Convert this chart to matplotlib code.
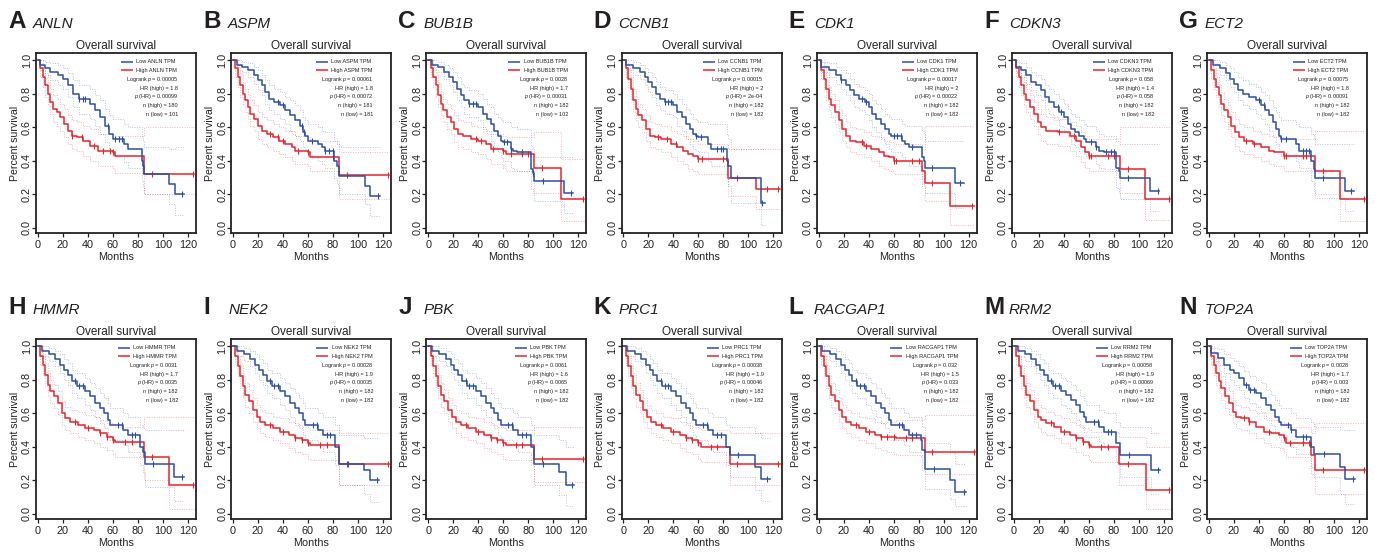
import matplotlib
matplotlib.use('Agg')
import matplotlib.pyplot as plt

plt.rcParams['font.family'] = ['Liberation Sans', 'DejaVu Sans']
plt.rcParams['mathtext.fontset'] = 'custom'
plt.rcParams['mathtext.it'] = 'Liberation Sans:italic'
plt.rcParams['mathtext.rm'] = 'Liberation Sans'

# panel labels and stats
letters = ['A', 'B', 'C', 'D', 'E', 'F', 'G', 'H', 'I', 'J', 'K', 'L', 'M', 'N']
genes = ['ANLN', 'ASPM', 'BUB1B', 'CCNB1', 'CDK1', 'CDKN3', 'ECT2',
         'HMMR', 'NEK2', 'PBK', 'PRC1', 'RACGAP1', 'RRM2', 'TOP2A']
logrank_p = ['0.00005', '0.00061', '0.0028', '0.00015', '0.00017', '0.058', '0.00075',
             '0.0031', '0.00028', '0.0061', '0.00038', '0.032', '0.00058', '0.0028']
hr_high = ['1.8', '1.8', '1.7', '2', '2', '1.4', '1.8', '1.7', '1.9', '1.6', '1.9', '1.5', '1.9', '1.7']
p_hr = ['0.00099', '0.00072', '0.00031', '2e-04', '0.00022', '0.058', '0.00091',
        '0.0035', '0.00035', '0.0065', '0.00046', '0.033', '0.00069', '0.003']
n_high = [180, 181, 182, 182, 182, 182, 182, 182, 182, 182, 182, 182, 182, 182]
n_low = [101, 181, 102, 182, 182, 182, 182, 182, 182, 182, 182, 182, 182, 182]

# Kaplan-Meier curves (months, survival fraction)
low_t = {
    'ANLN': [0, 2, 6, 10, 16, 20, 24, 28, 33, 42, 46, 50, 54, 57, 60, 69, 72, 83, 84, 85, 105, 110, 117],
    'ASPM': [0, 3, 7, 12, 17, 20, 23, 26, 29, 33, 38, 42, 46, 50, 54, 56, 58, 60, 68, 71, 74, 81, 83, 85, 106, 110, 118],
    'BUB1B': [0, 3, 8, 13, 17, 20, 23, 26, 29, 33, 40, 44, 47, 50, 53, 56, 58, 60, 66, 68, 71, 82, 84, 85, 109, 116],
    'CCNB1': [0, 2, 8, 13, 17, 20, 23, 26, 29, 33, 40, 43, 47, 50, 53, 56, 58, 60, 68, 70, 83, 84, 86, 110, 113],
    'CDK1': [0, 2, 8, 14, 18, 22, 25, 28, 32, 37, 40, 43, 46, 50, 53, 56, 58, 67, 69, 72, 83, 84, 85, 109, 116],
    'CDKN3': [0, 2, 6, 10, 14, 18, 22, 25, 28, 32, 36, 40, 43, 46, 49, 52, 56, 58, 66, 68, 72, 82, 84, 85, 109, 116],
    'ECT2': [0, 3, 9, 14, 17, 20, 23, 27, 32, 38, 42, 45, 48, 51, 54, 56, 58, 70, 72, 82, 84, 85, 109, 116],
    'HMMR': [0, 3, 9, 14, 18, 21, 24, 27, 31, 38, 42, 46, 50, 53, 56, 58, 68, 72, 82, 84, 86, 109, 117],
    'NEK2': [0, 3, 9, 14, 18, 21, 24, 27, 31, 38, 42, 46, 50, 53, 56, 58, 68, 72, 82, 85, 105, 110, 117],
    'PBK': [0, 3, 9, 14, 18, 21, 24, 27, 31, 38, 42, 46, 50, 53, 56, 58, 68, 72, 82, 85, 105, 110, 117],
    'PRC1': [0, 3, 9, 14, 18, 21, 24, 27, 31, 38, 42, 46, 50, 53, 56, 58, 68, 72, 82, 85, 105, 110, 117],
    'RACGAP1': [0, 3, 9, 14, 18, 21, 24, 27, 31, 38, 42, 46, 50, 53, 56, 58, 68, 72, 82, 83, 85, 105, 109, 118],
    'RRM2': [0, 3, 9, 14, 18, 21, 24, 27, 31, 38, 42, 46, 50, 53, 56, 58, 68, 72, 82, 85, 105, 110, 117],
    'TOP2A': [0, 2, 7, 12, 17, 20, 24, 28, 32, 38, 42, 46, 50, 53, 56, 58, 66, 70, 82, 84, 105, 109, 117],
}
low_s = {
    'ANLN': [1.0, 0.97, 0.95, 0.93, 0.91, 0.89, 0.85, 0.80, 0.77, 0.74, 0.70, 0.66, 0.61, 0.56, 0.53, 0.50, 0.47, 0.40, 0.37, 0.32, 0.26, 0.20, 0.20],
    'ASPM': [1.0, 0.97, 0.96, 0.94, 0.91, 0.88, 0.85, 0.81, 0.77, 0.75, 0.73, 0.70, 0.67, 0.64, 0.61, 0.57, 0.55, 0.52, 0.50, 0.48, 0.46, 0.40, 0.37, 0.31, 0.25, 0.19, 0.19],
    'BUB1B': [1.0, 0.97, 0.96, 0.93, 0.90, 0.87, 0.83, 0.79, 0.76, 0.74, 0.72, 0.68, 0.65, 0.62, 0.58, 0.55, 0.52, 0.51, 0.47, 0.46, 0.45, 0.35, 0.33, 0.28, 0.21, 0.21],
    'CCNB1': [1.0, 0.97, 0.95, 0.93, 0.90, 0.87, 0.84, 0.80, 0.77, 0.75, 0.73, 0.69, 0.66, 0.62, 0.59, 0.56, 0.55, 0.54, 0.50, 0.47, 0.40, 0.37, 0.30, 0.15, 0.15],
    'CDK1': [1.0, 0.96, 0.94, 0.91, 0.88, 0.85, 0.82, 0.79, 0.77, 0.75, 0.72, 0.68, 0.65, 0.62, 0.59, 0.56, 0.55, 0.52, 0.50, 0.48, 0.42, 0.40, 0.355, 0.27, 0.27],
    'CDKN3': [1.0, 0.96, 0.94, 0.91, 0.87, 0.85, 0.82, 0.78, 0.75, 0.72, 0.69, 0.66, 0.62, 0.59, 0.57, 0.55, 0.53, 0.51, 0.48, 0.46, 0.45, 0.36, 0.34, 0.30, 0.22, 0.22],
    'ECT2': [1.0, 0.97, 0.95, 0.92, 0.89, 0.86, 0.82, 0.80, 0.78, 0.76, 0.73, 0.70, 0.67, 0.63, 0.59, 0.55, 0.53, 0.50, 0.46, 0.40, 0.35, 0.30, 0.22, 0.22],
    'HMMR': [1.0, 0.97, 0.95, 0.92, 0.89, 0.86, 0.83, 0.79, 0.76, 0.73, 0.70, 0.66, 0.63, 0.60, 0.56, 0.53, 0.50, 0.47, 0.40, 0.37, 0.30, 0.22, 0.22],
    'NEK2': [1.0, 0.97, 0.95, 0.92, 0.89, 0.86, 0.83, 0.79, 0.76, 0.73, 0.70, 0.66, 0.63, 0.60, 0.56, 0.53, 0.50, 0.47, 0.40, 0.30, 0.26, 0.20, 0.20],
    'PBK': [1.0, 0.97, 0.95, 0.92, 0.89, 0.86, 0.83, 0.79, 0.76, 0.73, 0.70, 0.66, 0.63, 0.60, 0.56, 0.53, 0.50, 0.47, 0.40, 0.30, 0.25, 0.17, 0.17],
    'PRC1': [1.0, 0.97, 0.95, 0.92, 0.89, 0.86, 0.83, 0.79, 0.76, 0.73, 0.70, 0.66, 0.63, 0.60, 0.56, 0.53, 0.50, 0.47, 0.40, 0.35, 0.28, 0.21, 0.21],
    'RACGAP1': [1.0, 0.97, 0.95, 0.92, 0.89, 0.86, 0.83, 0.79, 0.76, 0.73, 0.70, 0.66, 0.63, 0.60, 0.56, 0.53, 0.50, 0.47, 0.44, 0.38, 0.27, 0.20, 0.13, 0.13],
    'RRM2': [1.0, 0.97, 0.95, 0.92, 0.89, 0.86, 0.83, 0.79, 0.76, 0.73, 0.71, 0.68, 0.65, 0.61, 0.58, 0.55, 0.52, 0.49, 0.42, 0.35, 0.35, 0.26, 0.26],
    'TOP2A': [1.0, 0.96, 0.93, 0.89, 0.86, 0.84, 0.81, 0.77, 0.74, 0.72, 0.69, 0.65, 0.62, 0.58, 0.55, 0.53, 0.50, 0.46, 0.40, 0.355, 0.28, 0.21, 0.21],
}
low_hi = {
    'ANLN': [1.0, 1.0, 0.99, 0.98, 0.97, 0.95, 0.92, 0.88, 0.85, 0.83, 0.79, 0.76, 0.71, 0.67, 0.65, 0.62, 0.60, 0.55, 0.52, 0.48, 0.47, 0.48, 0.48],
    'ASPM': [1.0, 1.0, 0.99, 0.98, 0.96, 0.94, 0.91, 0.88, 0.85, 0.83, 0.81, 0.78, 0.76, 0.73, 0.70, 0.66, 0.64, 0.62, 0.60, 0.58, 0.57, 0.52, 0.50, 0.48, 0.48, 0.48, 0.48],
    'BUB1B': [1.0, 1.0, 0.99, 0.97, 0.95, 0.93, 0.90, 0.86, 0.84, 0.82, 0.80, 0.77, 0.74, 0.72, 0.68, 0.66, 0.64, 0.63, 0.60, 0.60, 0.59, 0.49, 0.47, 0.42, 0.42, 0.42],
    'CCNB1': [1.0, 1.0, 0.99, 0.97, 0.95, 0.93, 0.90, 0.87, 0.84, 0.82, 0.80, 0.77, 0.74, 0.71, 0.68, 0.65, 0.64, 0.63, 0.62, 0.62, 0.56, 0.53, 0.47, 0.47, 0.47],
    'CDK1': [1.0, 0.99, 0.98, 0.96, 0.94, 0.92, 0.89, 0.86, 0.84, 0.82, 0.80, 0.76, 0.74, 0.71, 0.68, 0.66, 0.65, 0.62, 0.61, 0.61, 0.58, 0.56, 0.52, 0.52, 0.52],
    'CDKN3': [1.0, 0.99, 0.98, 0.96, 0.93, 0.91, 0.89, 0.85, 0.83, 0.80, 0.77, 0.74, 0.71, 0.68, 0.66, 0.64, 0.62, 0.61, 0.58, 0.56, 0.55, 0.52, 0.52, 0.50, 0.50, 0.50],
    'ECT2': [1.0, 1.0, 0.99, 0.97, 0.95, 0.93, 0.90, 0.88, 0.86, 0.84, 0.81, 0.79, 0.76, 0.72, 0.69, 0.66, 0.64, 0.62, 0.60, 0.56, 0.53, 0.50, 0.50, 0.50],
    'HMMR': [1.0, 1.0, 0.99, 0.97, 0.95, 0.92, 0.90, 0.86, 0.84, 0.81, 0.78, 0.75, 0.72, 0.69, 0.66, 0.63, 0.60, 0.58, 0.53, 0.51, 0.50, 0.50, 0.50],
    'NEK2': [1.0, 1.0, 0.99, 0.97, 0.95, 0.92, 0.90, 0.86, 0.84, 0.81, 0.78, 0.75, 0.72, 0.69, 0.66, 0.63, 0.60, 0.58, 0.53, 0.47, 0.45, 0.45, 0.45],
    'PBK': [1.0, 1.0, 0.99, 0.97, 0.95, 0.92, 0.90, 0.86, 0.84, 0.81, 0.78, 0.75, 0.72, 0.69, 0.66, 0.63, 0.60, 0.58, 0.53, 0.47, 0.44, 0.40, 0.40],
    'PRC1': [1.0, 1.0, 0.99, 0.97, 0.95, 0.92, 0.90, 0.86, 0.84, 0.81, 0.78, 0.75, 0.72, 0.69, 0.66, 0.63, 0.60, 0.58, 0.53, 0.52, 0.48, 0.45, 0.45],
    'RACGAP1': [1.0, 1.0, 0.99, 0.97, 0.95, 0.92, 0.90, 0.86, 0.84, 0.81, 0.78, 0.75, 0.72, 0.69, 0.66, 0.63, 0.60, 0.58, 0.57, 0.52, 0.42, 0.37, 0.30, 0.30],
    'RRM2': [1.0, 1.0, 0.99, 0.97, 0.95, 0.92, 0.90, 0.86, 0.84, 0.81, 0.79, 0.77, 0.74, 0.70, 0.68, 0.65, 0.62, 0.60, 0.55, 0.52, 0.52, 0.48, 0.48],
    'TOP2A': [1.0, 0.99, 0.98, 0.95, 0.93, 0.91, 0.88, 0.85, 0.82, 0.80, 0.78, 0.74, 0.71, 0.68, 0.65, 0.63, 0.60, 0.57, 0.55, 0.52, 0.50, 0.50, 0.50],
}
low_lo = {
    'ANLN': [1.0, 0.94, 0.91, 0.88, 0.85, 0.83, 0.78, 0.72, 0.68, 0.65, 0.61, 0.56, 0.51, 0.46, 0.43, 0.39, 0.36, 0.28, 0.25, 0.20, 0.14, 0.08, 0.08],
    'ASPM': [1.0, 0.94, 0.93, 0.90, 0.86, 0.82, 0.79, 0.74, 0.70, 0.68, 0.65, 0.62, 0.58, 0.55, 0.52, 0.48, 0.46, 0.43, 0.40, 0.38, 0.36, 0.30, 0.26, 0.20, 0.14, 0.07, 0.07],
    'BUB1B': [1.0, 0.94, 0.93, 0.89, 0.85, 0.81, 0.76, 0.72, 0.68, 0.66, 0.64, 0.59, 0.56, 0.52, 0.48, 0.45, 0.42, 0.40, 0.36, 0.35, 0.34, 0.23, 0.21, 0.16, 0.09, 0.09],
    'CCNB1': [1.0, 0.94, 0.91, 0.89, 0.85, 0.81, 0.78, 0.73, 0.70, 0.68, 0.66, 0.61, 0.58, 0.53, 0.50, 0.47, 0.46, 0.45, 0.40, 0.37, 0.29, 0.25, 0.15, 0.02, 0.02],
    'CDK1': [1.0, 0.93, 0.90, 0.86, 0.83, 0.79, 0.76, 0.72, 0.70, 0.68, 0.64, 0.60, 0.57, 0.53, 0.50, 0.47, 0.45, 0.42, 0.40, 0.37, 0.29, 0.26, 0.21, 0.12, 0.12],
    'CDKN3': [1.0, 0.93, 0.90, 0.86, 0.82, 0.79, 0.76, 0.71, 0.68, 0.64, 0.61, 0.58, 0.54, 0.50, 0.48, 0.46, 0.44, 0.42, 0.38, 0.36, 0.35, 0.24, 0.21, 0.17, 0.10, 0.10],
    'ECT2': [1.0, 0.94, 0.91, 0.88, 0.84, 0.81, 0.76, 0.73, 0.71, 0.68, 0.65, 0.62, 0.58, 0.54, 0.50, 0.46, 0.43, 0.40, 0.36, 0.28, 0.22, 0.18, 0.10, 0.10],
    'HMMR': [1.0, 0.94, 0.91, 0.88, 0.84, 0.80, 0.77, 0.72, 0.69, 0.65, 0.62, 0.58, 0.54, 0.51, 0.47, 0.44, 0.41, 0.37, 0.29, 0.25, 0.16, 0.08, 0.08],
    'NEK2': [1.0, 0.94, 0.91, 0.88, 0.84, 0.80, 0.77, 0.72, 0.69, 0.65, 0.62, 0.58, 0.54, 0.51, 0.47, 0.44, 0.41, 0.37, 0.29, 0.17, 0.12, 0.07, 0.07],
    'PBK': [1.0, 0.94, 0.91, 0.88, 0.84, 0.80, 0.77, 0.72, 0.69, 0.65, 0.62, 0.58, 0.54, 0.51, 0.47, 0.44, 0.41, 0.37, 0.29, 0.17, 0.11, 0.05, 0.05],
    'PRC1': [1.0, 0.94, 0.91, 0.88, 0.84, 0.80, 0.77, 0.72, 0.69, 0.65, 0.62, 0.58, 0.54, 0.51, 0.47, 0.44, 0.41, 0.37, 0.29, 0.22, 0.14, 0.08, 0.08],
    'RACGAP1': [1.0, 0.94, 0.91, 0.88, 0.84, 0.80, 0.77, 0.72, 0.69, 0.65, 0.62, 0.58, 0.54, 0.51, 0.47, 0.44, 0.41, 0.37, 0.34, 0.26, 0.15, 0.09, 0.05, 0.05],
    'RRM2': [1.0, 0.94, 0.91, 0.88, 0.84, 0.80, 0.77, 0.72, 0.69, 0.65, 0.63, 0.60, 0.56, 0.52, 0.49, 0.46, 0.43, 0.39, 0.31, 0.22, 0.22, 0.12, 0.12],
    'TOP2A': [1.0, 0.93, 0.89, 0.84, 0.80, 0.77, 0.74, 0.69, 0.66, 0.64, 0.61, 0.56, 0.53, 0.49, 0.46, 0.43, 0.40, 0.36, 0.28, 0.22, 0.12, 0.06, 0.06],
}

high_t = {
    'ANLN': [0, 2, 4, 6, 8, 10, 12, 15, 18, 21, 24, 27, 31, 36, 42, 48, 60, 62, 85, 125],
    'ASPM': [0, 2, 4, 6, 8, 10, 12, 14, 17, 20, 23, 27, 32, 37, 42, 47, 50, 60, 62, 85, 125],
    'BUB1B': [0, 2, 4, 6, 8, 10, 12, 15, 18, 21, 24, 28, 34, 40, 46, 50, 60, 62, 85, 106, 125],
    'CCNB1': [0, 2, 4, 6, 8, 10, 12, 15, 18, 21, 25, 30, 38, 43, 48, 52, 56, 60, 84, 106, 125],
    'CDK1': [0, 2, 4, 6, 8, 10, 13, 16, 19, 22, 25, 30, 36, 42, 48, 52, 56, 60, 83, 85, 105, 124],
    'CDKN3': [0, 2, 4, 6, 8, 10, 13, 16, 19, 22, 26, 35, 45, 50, 54, 57, 60, 85, 105, 125],
    'ECT2': [0, 2, 4, 6, 8, 10, 12, 15, 18, 21, 24, 28, 35, 42, 48, 52, 60, 85, 105, 125],
    'HMMR': [0, 2, 4, 6, 8, 10, 13, 16, 19, 22, 26, 32, 38, 45, 50, 55, 60, 62, 85, 105, 125],
    'NEK2': [0, 2, 4, 6, 8, 10, 13, 16, 19, 22, 26, 32, 38, 45, 50, 55, 60, 62, 85, 125],
    'PBK': [0, 2, 4, 6, 8, 10, 13, 16, 19, 22, 26, 32, 38, 45, 50, 55, 60, 62, 85, 125],
    'PRC1': [0, 2, 4, 6, 8, 10, 13, 16, 19, 22, 26, 32, 38, 45, 50, 55, 60, 62, 85, 125],
    'RACGAP1': [0, 2, 4, 6, 8, 10, 13, 16, 19, 22, 26, 32, 38, 45, 50, 55, 60, 62, 85, 125],
    'RRM2': [0, 2, 4, 6, 8, 10, 13, 16, 19, 22, 26, 32, 38, 45, 50, 55, 60, 62, 84, 106, 125],
    'TOP2A': [0, 2, 4, 6, 8, 10, 13, 16, 19, 22, 26, 32, 38, 44, 50, 56, 60, 62, 82, 85, 125],
}
high_s = {
    'ANLN': [1.0, 0.95, 0.90, 0.85, 0.80, 0.75, 0.71, 0.69, 0.66, 0.62, 0.58, 0.55, 0.54, 0.52, 0.49, 0.46, 0.45, 0.43, 0.32, 0.32],
    'ASPM': [1.0, 0.95, 0.90, 0.85, 0.80, 0.76, 0.72, 0.68, 0.65, 0.61, 0.58, 0.56, 0.54, 0.52, 0.50, 0.48, 0.46, 0.45, 0.42, 0.315, 0.315],
    'BUB1B': [1.0, 0.95, 0.90, 0.85, 0.79, 0.74, 0.70, 0.66, 0.63, 0.59, 0.56, 0.55, 0.53, 0.52, 0.50, 0.47, 0.46, 0.44, 0.355, 0.17, 0.17],
    'CCNB1': [1.0, 0.95, 0.89, 0.83, 0.76, 0.71, 0.67, 0.64, 0.59, 0.55, 0.54, 0.53, 0.50, 0.48, 0.46, 0.44, 0.43, 0.41, 0.30, 0.23, 0.23],
    'CDK1': [1.0, 0.94, 0.89, 0.83, 0.77, 0.73, 0.69, 0.64, 0.59, 0.55, 0.52, 0.51, 0.49, 0.47, 0.45, 0.43, 0.42, 0.40, 0.34, 0.27, 0.13, 0.13],
    'CDKN3': [1.0, 0.95, 0.90, 0.85, 0.80, 0.76, 0.72, 0.68, 0.63, 0.60, 0.58, 0.57, 0.55, 0.52, 0.48, 0.45, 0.43, 0.35, 0.17, 0.17],
    'ECT2': [1.0, 0.94, 0.89, 0.84, 0.79, 0.74, 0.70, 0.66, 0.61, 0.57, 0.54, 0.52, 0.50, 0.48, 0.46, 0.45, 0.43, 0.34, 0.17, 0.17],
    'HMMR': [1.0, 0.94, 0.89, 0.83, 0.77, 0.73, 0.70, 0.66, 0.60, 0.57, 0.55, 0.53, 0.51, 0.50, 0.48, 0.46, 0.44, 0.43, 0.34, 0.17, 0.17],
    'NEK2': [1.0, 0.94, 0.88, 0.82, 0.76, 0.71, 0.67, 0.62, 0.58, 0.55, 0.53, 0.51, 0.49, 0.47, 0.45, 0.44, 0.42, 0.41, 0.30, 0.30],
    'PBK': [1.0, 0.94, 0.88, 0.82, 0.76, 0.71, 0.67, 0.62, 0.58, 0.55, 0.53, 0.51, 0.49, 0.47, 0.45, 0.44, 0.42, 0.41, 0.33, 0.33],
    'PRC1': [1.0, 0.94, 0.88, 0.82, 0.76, 0.71, 0.67, 0.62, 0.58, 0.55, 0.53, 0.51, 0.49, 0.47, 0.45, 0.44, 0.42, 0.40, 0.30, 0.30],
    'RACGAP1': [1.0, 0.94, 0.88, 0.82, 0.76, 0.71, 0.67, 0.62, 0.58, 0.55, 0.53, 0.51, 0.49, 0.47, 0.46, 0.46, 0.46, 0.45, 0.37, 0.37],
    'RRM2': [1.0, 0.94, 0.88, 0.82, 0.76, 0.71, 0.67, 0.62, 0.58, 0.56, 0.54, 0.52, 0.49, 0.47, 0.45, 0.43, 0.41, 0.40, 0.30, 0.14, 0.14],
    'TOP2A': [1.0, 0.94, 0.89, 0.84, 0.79, 0.75, 0.70, 0.66, 0.61, 0.58, 0.57, 0.55, 0.52, 0.49, 0.48, 0.47, 0.45, 0.42, 0.35, 0.26, 0.26],
}
high_hi = {
    'ANLN': [1.0, 1.0, 0.96, 0.92, 0.87, 0.83, 0.79, 0.77, 0.74, 0.71, 0.67, 0.64, 0.63, 0.61, 0.59, 0.56, 0.56, 0.55, 0.60, 0.60],
    'ASPM': [1.0, 1.0, 0.96, 0.92, 0.87, 0.83, 0.79, 0.76, 0.73, 0.69, 0.66, 0.64, 0.62, 0.60, 0.58, 0.56, 0.55, 0.54, 0.52, 0.45, 0.45],
    'BUB1B': [1.0, 1.0, 0.96, 0.92, 0.86, 0.81, 0.77, 0.74, 0.71, 0.67, 0.64, 0.63, 0.61, 0.60, 0.58, 0.56, 0.55, 0.54, 0.57, 0.41, 0.41],
    'CCNB1': [1.0, 1.0, 0.95, 0.90, 0.83, 0.78, 0.74, 0.71, 0.67, 0.63, 0.62, 0.61, 0.58, 0.56, 0.55, 0.53, 0.52, 0.50, 0.47, 0.47, 0.47],
    'CDK1': [1.0, 1.0, 0.95, 0.90, 0.84, 0.80, 0.76, 0.71, 0.67, 0.63, 0.60, 0.59, 0.57, 0.55, 0.54, 0.52, 0.51, 0.50, 0.47, 0.61, 0.61, 0.61],
    'CDKN3': [1.0, 1.0, 0.96, 0.91, 0.87, 0.83, 0.79, 0.75, 0.71, 0.68, 0.66, 0.65, 0.63, 0.61, 0.57, 0.55, 0.53, 0.60, 0.60, 0.60],
    'ECT2': [1.0, 1.0, 0.95, 0.90, 0.86, 0.81, 0.77, 0.73, 0.69, 0.65, 0.62, 0.60, 0.58, 0.56, 0.55, 0.54, 0.53, 0.58, 0.58, 0.58],
    'HMMR': [1.0, 1.0, 0.95, 0.90, 0.84, 0.80, 0.77, 0.73, 0.67, 0.64, 0.62, 0.61, 0.59, 0.58, 0.56, 0.54, 0.53, 0.52, 0.58, 0.58, 0.58],
    'NEK2': [1.0, 1.0, 0.94, 0.89, 0.83, 0.78, 0.74, 0.69, 0.65, 0.62, 0.60, 0.58, 0.57, 0.55, 0.53, 0.52, 0.51, 0.50, 0.48, 0.48],
    'PBK': [1.0, 1.0, 0.94, 0.89, 0.83, 0.78, 0.74, 0.69, 0.65, 0.62, 0.60, 0.58, 0.57, 0.55, 0.53, 0.52, 0.51, 0.50, 0.52, 0.52],
    'PRC1': [1.0, 1.0, 0.94, 0.89, 0.83, 0.78, 0.74, 0.69, 0.65, 0.62, 0.60, 0.58, 0.57, 0.55, 0.53, 0.52, 0.51, 0.50, 0.48, 0.48],
    'RACGAP1': [1.0, 1.0, 0.94, 0.89, 0.83, 0.78, 0.74, 0.69, 0.65, 0.62, 0.60, 0.58, 0.57, 0.55, 0.54, 0.55, 0.55, 0.56, 0.59, 0.59],
    'RRM2': [1.0, 1.0, 0.94, 0.89, 0.83, 0.78, 0.74, 0.69, 0.65, 0.63, 0.61, 0.59, 0.57, 0.55, 0.53, 0.51, 0.50, 0.49, 0.46, 0.40, 0.40],
    'TOP2A': [1.0, 1.0, 0.95, 0.91, 0.86, 0.82, 0.77, 0.73, 0.68, 0.65, 0.64, 0.62, 0.60, 0.57, 0.56, 0.55, 0.54, 0.52, 0.48, 0.54, 0.54],
}
high_lo = {
    'ANLN': [1.0, 0.90, 0.84, 0.78, 0.73, 0.68, 0.63, 0.61, 0.58, 0.54, 0.50, 0.47, 0.46, 0.43, 0.40, 0.37, 0.35, 0.33, 0.20, 0.20],
    'ASPM': [1.0, 0.90, 0.84, 0.78, 0.73, 0.69, 0.65, 0.61, 0.58, 0.53, 0.50, 0.48, 0.46, 0.44, 0.42, 0.40, 0.38, 0.37, 0.34, 0.17, 0.17],
    'BUB1B': [1.0, 0.90, 0.84, 0.78, 0.72, 0.67, 0.63, 0.59, 0.56, 0.51, 0.48, 0.47, 0.45, 0.44, 0.41, 0.38, 0.36, 0.34, 0.21, 0.04, 0.04],
    'CCNB1': [1.0, 0.90, 0.84, 0.77, 0.69, 0.64, 0.60, 0.57, 0.52, 0.48, 0.47, 0.45, 0.42, 0.40, 0.38, 0.35, 0.34, 0.32, 0.19, 0.11, 0.11],
    'CDK1': [1.0, 0.89, 0.83, 0.76, 0.70, 0.66, 0.62, 0.57, 0.52, 0.48, 0.45, 0.44, 0.42, 0.40, 0.37, 0.35, 0.34, 0.32, 0.25, 0.16, 0.02, 0.02],
    'CDKN3': [1.0, 0.90, 0.84, 0.79, 0.73, 0.69, 0.65, 0.61, 0.56, 0.52, 0.50, 0.49, 0.46, 0.43, 0.39, 0.36, 0.34, 0.21, 0.05, 0.05],
    'ECT2': [1.0, 0.89, 0.83, 0.78, 0.72, 0.67, 0.63, 0.59, 0.54, 0.49, 0.46, 0.44, 0.42, 0.40, 0.38, 0.37, 0.34, 0.20, 0.04, 0.04],
    'HMMR': [1.0, 0.89, 0.83, 0.76, 0.70, 0.66, 0.63, 0.59, 0.53, 0.50, 0.48, 0.46, 0.44, 0.42, 0.40, 0.38, 0.36, 0.34, 0.20, 0.03, 0.03],
    'NEK2': [1.0, 0.89, 0.82, 0.75, 0.69, 0.64, 0.60, 0.55, 0.51, 0.48, 0.46, 0.44, 0.42, 0.39, 0.37, 0.36, 0.33, 0.32, 0.17, 0.17],
    'PBK': [1.0, 0.89, 0.82, 0.75, 0.69, 0.64, 0.60, 0.55, 0.51, 0.48, 0.46, 0.44, 0.42, 0.39, 0.37, 0.36, 0.33, 0.32, 0.19, 0.19],
    'PRC1': [1.0, 0.89, 0.82, 0.75, 0.69, 0.64, 0.60, 0.55, 0.51, 0.48, 0.46, 0.44, 0.42, 0.39, 0.37, 0.36, 0.33, 0.31, 0.17, 0.17],
    'RACGAP1': [1.0, 0.89, 0.82, 0.75, 0.69, 0.64, 0.60, 0.55, 0.51, 0.48, 0.46, 0.44, 0.42, 0.39, 0.38, 0.37, 0.36, 0.35, 0.24, 0.24],
    'RRM2': [1.0, 0.89, 0.82, 0.75, 0.69, 0.64, 0.60, 0.55, 0.51, 0.49, 0.47, 0.45, 0.42, 0.39, 0.37, 0.35, 0.32, 0.31, 0.17, 0.03, 0.03],
    'TOP2A': [1.0, 0.89, 0.83, 0.77, 0.72, 0.68, 0.63, 0.59, 0.54, 0.51, 0.50, 0.48, 0.45, 0.42, 0.40, 0.39, 0.37, 0.34, 0.24, 0.12, 0.12],
}

# censored times (the + marks)
low_cens = {
    'ANLN': [33, 36, 38, 56, 62, 65, 67, 84, 115],
    'ASPM': [36, 40, 55, 57, 63, 74, 77, 80, 116],
    'BUB1B': [33, 36, 38, 61, 63, 66, 75, 84, 92, 114],
    'CCNB1': [33, 36, 38, 58, 62, 75, 78, 80, 111],
    'CDK1': [18, 35, 38, 60, 63, 66, 75, 91, 113],
    'CDKN3': [35, 38, 62, 66, 74, 78, 80, 91, 115],
    'ECT2': [40, 44, 58, 62, 75, 78, 80, 91, 114],
    'HMMR': [30, 33, 36, 64, 67, 75, 78, 92, 115],
    'NEK2': [30, 33, 36, 64, 67, 75, 78, 92, 115],
    'PBK': [30, 33, 36, 64, 67, 75, 78, 92, 115],
    'PRC1': [30, 33, 36, 64, 67, 75, 78, 92, 115],
    'RACGAP1': [30, 33, 36, 64, 67, 75, 78, 92, 116],
    'RRM2': [30, 33, 36, 64, 67, 75, 78, 92, 115],
    'TOP2A': [30, 33, 36, 63, 66, 75, 78, 92, 115],
}
high_cens = {
    'ANLN': [27, 35, 45, 52, 58, 60, 91, 124],
    'ASPM': [30, 36, 40, 52, 60, 80, 91, 124],
    'BUB1B': [38, 42, 52, 60, 66, 75, 80, 91, 124],
    'CCNB1': [28, 35, 42, 60, 63, 80, 91, 115, 124],
    'CDK1': [35, 38, 60, 62, 75, 80, 91, 123],
    'CDKN3': [36, 48, 60, 62, 75, 80, 91, 124],
    'ECT2': [30, 36, 60, 62, 75, 78, 91, 124],
    'HMMR': [30, 40, 50, 55, 60, 70, 75, 91, 124],
    'NEK2': [30, 40, 50, 55, 60, 70, 75, 91, 124],
    'PBK': [30, 40, 50, 55, 60, 70, 75, 91, 124],
    'PRC1': [30, 40, 50, 55, 60, 70, 75, 91, 124],
    'RACGAP1': [30, 40, 50, 55, 60, 70, 75, 91, 124],
    'RRM2': [30, 40, 50, 55, 60, 70, 75, 91, 124],
    'TOP2A': [28, 32, 48, 60, 65, 75, 80, 91, 124],
}

blue = '#2b4fa5'
red = '#e8232a'
ink = '#222222'


def surv_at(t, s, x):
    # value of the step curve at time x
    v = s[0]
    for tt, ss in zip(t, s):
        if tt <= x:
            v = ss
    return v


fig = plt.figure(figsize=(13.79, 5.53), dpi=100)
W, H = 1379.0, 553.0
renderer = fig.canvas.get_renderer()

for i, g in enumerate(genes):
    row, col = divmod(i, 7)
    left = 36 + 195.2 * col
    top = 53 if row == 0 else 339
    ax = fig.add_axes([left / W, (H - top - 180) / H, 160 / W, 180 / H])

    groups = [(low_t, low_s, low_hi, low_lo, low_cens, blue),
              (high_t, high_s, high_hi, high_lo, high_cens, red)]
    # confidence bands first
    for tt, ss, hi, lo, cens, c in groups:
        ax.step(tt[g], hi[g], where='post', color=c, lw=0.7, alpha=0.35, ls=(0, (1, 1.5)))
        ax.step(tt[g], lo[g], where='post', color=c, lw=0.7, alpha=0.35, ls=(0, (1, 1.5)))
    for tt, ss, hi, lo, cens, c in groups[::-1]:
        ax.step(tt[g], ss[g], where='post', color=c, lw=1.1)
        cy = [surv_at(tt[g], ss[g], x) for x in cens[g]]
        ax.plot(cens[g], cy, ls='none', marker='|', ms=4, mew=0.8, color=c)

    ax.set_xlim(-1.4, 126.6)
    ax.set_ylim(-0.03, 1.042)
    ax.set_xticks([0, 20, 40, 60, 80, 100, 120])
    ax.set_yticks([0.0, 0.2, 0.4, 0.6, 0.8, 1.0])
    ax.set_yticklabels(['0.0', '0.2', '0.4', '0.6', '0.8', '1.0'])
    ax.tick_params(axis='both', labelsize=7.8, length=2.6, width=0.9, colors=ink)
    ax.tick_params(axis='x', pad=2.5)
    ax.tick_params(axis='y', labelrotation=90, pad=0.3)
    for lab in ax.get_yticklabels():
        lab.set_va('center')
    for sp in ax.spines.values():
        sp.set_linewidth(1.3)
        sp.set_color(ink)
    ax.set_title('Overall survival', fontsize=8.5, pad=3, color=ink)
    ax.set_xlabel('Months', fontsize=7.8, labelpad=1.5, color=ink)
    ax.set_ylabel('Percent survival', fontsize=7.6, labelpad=1.5, color=ink)

    # legend block: two keyed lines, then the test results, right aligned
    x_right = 0.882
    rows_y = [0.952 - 0.049 * k for k in range(7)]
    keys = [('Low %s TPM' % g, blue), ('High %s TPM' % g, red)]
    key_txt = [ax.text(0, rows_y[k], lab, transform=ax.transAxes, ha='left', va='center',
                       fontsize=4.0, color=ink) for k, (lab, c) in enumerate(keys)]
    wmax = max(t.get_window_extent(renderer).width for t in key_txt) / 160.0
    x_txt = x_right - wmax
    for k, (lab, c) in enumerate(keys):
        key_txt[k].set_x(x_txt)
        ax.plot([x_txt - 0.095, x_txt - 0.02], [rows_y[k], rows_y[k]], color=c, lw=1.1,
                transform=ax.transAxes, solid_capstyle='butt')
    stats = ['Logrank $p$ = %s' % logrank_p[i], 'HR (high) = %s' % hr_high[i],
             '$p$ (HR) = %s' % p_hr[i], 'n (high) = %d' % n_high[i], 'n (low) = %d' % n_low[i]]
    for k, s in enumerate(stats):
        ax.text(x_right + 0.005, rows_y[k + 2], s, transform=ax.transAxes, ha='right',
                va='center', fontsize=4.0, color=ink)

    # panel letter and gene symbol
    ybase = (H - top + 25) / H
    fig.text((left - 28) / W, ybase, letters[i], fontsize=17.5, fontweight='bold',
             va='baseline', color='#231f20')
    fig.text((left - 3) / W, ybase, g, fontsize=11, fontstyle='italic',
             va='baseline', color='#231f20')

fig.savefig('out.png', dpi=100)
